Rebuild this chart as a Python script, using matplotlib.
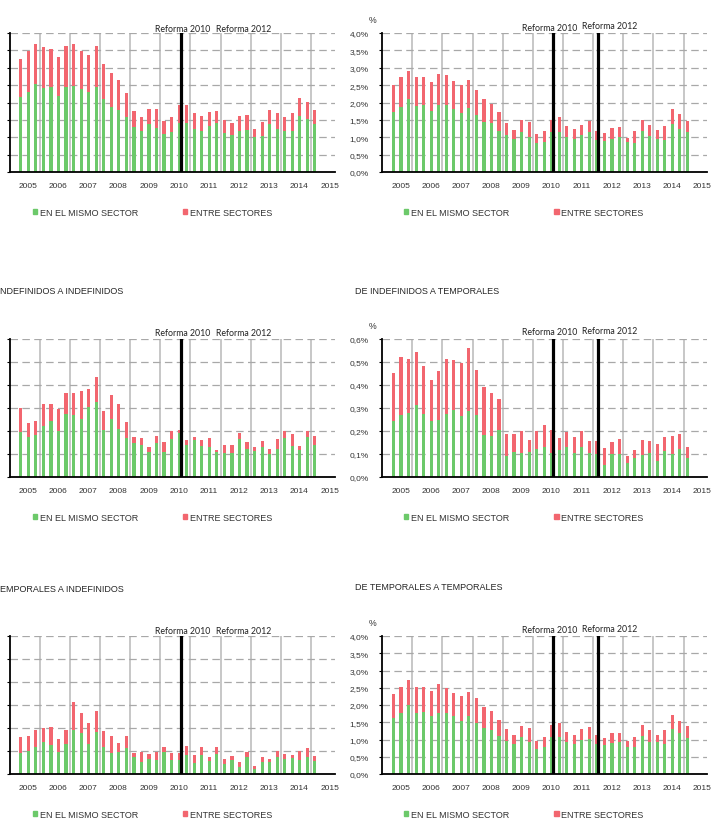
import matplotlib.pyplot as plt
import numpy as np
from matplotlib.patches import Patch
from matplotlib.ticker import FuncFormatter

# quarterly flows, 40 quarters, share in %
years = ["2005", "2006", "2007", "2008", "2009", "2010", "2011", "2012", "2013", "2014", "2015"]
legend_labels = ["EN EL MISMO SECTOR", "ENTRE SECTORES"]

# total (top row)
same_total = [2.17, 2.29, 2.53, 2.41, 2.46, 2.19, 2.46, 2.48, 2.39, 2.29, 2.46, 2.10, 1.86, 1.78, 1.59, 1.30,
              1.18, 1.37, 1.27, 1.08, 1.16, 1.42, 1.42, 1.25, 1.19, 1.32, 1.42, 1.13, 1.06, 1.19, 1.22, 1.01,
              1.03, 1.37, 1.25, 1.19, 1.19, 1.61, 1.52, 1.37]
betw_total = [1.08, 1.20, 1.15, 1.18, 1.09, 1.13, 1.18, 1.20, 1.10, 1.09, 1.18, 1.01, 0.99, 0.88, 0.69, 0.45,
              0.41, 0.45, 0.53, 0.39, 0.43, 0.51, 0.50, 0.45, 0.41, 0.41, 0.34, 0.36, 0.34, 0.42, 0.41, 0.22,
              0.40, 0.41, 0.45, 0.38, 0.51, 0.51, 0.50, 0.42]
same_total2 = [1.72, 1.88, 2.10, 1.90, 1.93, 1.76, 1.93, 1.93, 1.81, 1.69, 1.83, 1.63, 1.43, 1.40, 1.19, 1.06,
               0.94, 1.14, 1.01, 0.84, 0.87, 1.14, 1.16, 1.00, 0.96, 1.07, 1.16, 0.93, 0.90, 0.96, 1.01, 0.86,
               0.84, 1.18, 1.03, 0.96, 0.93, 1.37, 1.23, 1.14]
betw_total2 = [0.78, 0.84, 0.82, 0.82, 0.79, 0.82, 0.88, 0.86, 0.81, 0.80, 0.83, 0.73, 0.67, 0.57, 0.54, 0.34,
               0.28, 0.35, 0.42, 0.26, 0.30, 0.35, 0.41, 0.33, 0.27, 0.29, 0.31, 0.26, 0.23, 0.30, 0.29, 0.13,
               0.33, 0.31, 0.33, 0.24, 0.40, 0.43, 0.44, 0.33]

# de indefinidos a indefinidos
same_ii = [0.196, 0.174, 0.181, 0.220, 0.245, 0.201, 0.275, 0.271, 0.251, 0.306, 0.325, 0.206, 0.252, 0.209,
           0.170, 0.148, 0.141, 0.107, 0.148, 0.109, 0.165, 0.191, 0.141, 0.159, 0.133, 0.130, 0.109, 0.104,
           0.104, 0.165, 0.122, 0.112, 0.130, 0.101, 0.122, 0.170, 0.133, 0.116, 0.174, 0.139]
betw_ii = [0.104, 0.061, 0.062, 0.099, 0.074, 0.093, 0.089, 0.093, 0.123, 0.078, 0.110, 0.082, 0.106, 0.110,
           0.069, 0.027, 0.029, 0.023, 0.032, 0.042, 0.034, 0.012, 0.018, 0.016, 0.026, 0.040, 0.010, 0.037,
           0.037, 0.025, 0.029, 0.018, 0.025, 0.019, 0.043, 0.030, 0.053, 0.019, 0.026, 0.041]

# de indefinidos a temporales
same_it = [0.242, 0.268, 0.278, 0.312, 0.274, 0.242, 0.249, 0.274, 0.293, 0.264, 0.288, 0.268, 0.181, 0.180,
           0.206, 0.090, 0.110, 0.104, 0.107, 0.123, 0.130, 0.104, 0.116, 0.130, 0.104, 0.129, 0.104, 0.100,
           0.051, 0.101, 0.101, 0.061, 0.081, 0.094, 0.104, 0.068, 0.112, 0.101, 0.122, 0.081]
betw_it = [0.210, 0.254, 0.235, 0.230, 0.209, 0.181, 0.213, 0.239, 0.214, 0.232, 0.273, 0.199, 0.209, 0.184,
           0.133, 0.096, 0.076, 0.095, 0.052, 0.076, 0.095, 0.100, 0.054, 0.066, 0.070, 0.071, 0.051, 0.055,
           0.074, 0.050, 0.064, 0.030, 0.035, 0.065, 0.051, 0.077, 0.062, 0.079, 0.064, 0.049]

# de temporales a indefinidos
same_ti = [0.090, 0.101, 0.116, 0.140, 0.127, 0.094, 0.130, 0.191, 0.178, 0.130, 0.181, 0.119, 0.090, 0.097,
           0.113, 0.072, 0.051, 0.065, 0.062, 0.097, 0.061, 0.062, 0.084, 0.048, 0.084, 0.055, 0.087, 0.045,
           0.061, 0.032, 0.075, 0.022, 0.051, 0.051, 0.075, 0.065, 0.068, 0.062, 0.072, 0.058]
betw_ti = [0.072, 0.065, 0.075, 0.060, 0.077, 0.058, 0.062, 0.124, 0.087, 0.090, 0.094, 0.066, 0.076, 0.037,
           0.052, 0.018, 0.046, 0.020, 0.035, 0.019, 0.029, 0.028, 0.036, 0.034, 0.032, 0.017, 0.029, 0.020,
           0.016, 0.019, 0.022, 0.014, 0.024, 0.014, 0.023, 0.022, 0.014, 0.036, 0.039, 0.019]

# de temporales a temporales
same_tt = [1.61, 1.76, 2.00, 1.76, 1.80, 1.67, 1.78, 1.76, 1.67, 1.54, 1.67, 1.49, 1.32, 1.28, 1.09, 0.95,
           0.87, 1.06, 0.92, 0.72, 0.79, 1.06, 1.07, 0.92, 0.87, 0.99, 1.01, 0.87, 0.83, 0.89, 0.93, 0.79,
           0.77, 1.09, 0.94, 0.92, 0.86, 1.30, 1.18, 1.05]
betw_tt = [0.71, 0.77, 0.72, 0.77, 0.73, 0.75, 0.84, 0.73, 0.69, 0.72, 0.72, 0.70, 0.61, 0.54, 0.48, 0.35,
           0.26, 0.32, 0.41, 0.25, 0.27, 0.36, 0.40, 0.31, 0.26, 0.31, 0.35, 0.26, 0.20, 0.31, 0.27, 0.16,
           0.30, 0.34, 0.33, 0.21, 0.41, 0.41, 0.35, 0.35]

GREEN = "#6cc96a"
RED = "#f2666f"
TXT = "#333333"
W, H = 714, 828

fig = plt.figure(figsize=(W / 100, H / 100), dpi=100)


def add_ax(l, t, r, b):
    return fig.add_axes([l / W, 1 - b / H, (r - l) / W, (b - t) / H])


def panel(ax, same, betw, ymax, step, left_col, line2012, lab2010, lab2012):
    x = np.arange(len(same)) + 1.5
    ax.bar(x, same, width=0.42, color=GREEN, zorder=3)
    ax.bar(x, betw, bottom=same, width=0.42, color=RED, zorder=3)
    ax.set_xlim(0, 43.1)
    ax.set_ylim(0, ymax)
    ax.set_yticks(np.arange(0, ymax + step / 2, step))
    ax.yaxis.set_major_formatter(FuncFormatter(lambda v, p: ("%.1f%%" % v).replace(".", ",")))
    ax.set_xticks(np.arange(11) * 4 + 2.45, years)
    ax.set_xticks(np.arange(1, 11) * 4, minor=True)
    ax.grid(axis="y", which="major", linestyle=(0, (6, 3.5)), color="#a8a8a8", lw=0.9, zorder=1)
    ax.grid(axis="x", which="minor", color="#bdbdbd", lw=1.2, zorder=1)
    ax.grid(axis="x", which="major", visible=False)
    for s in ["top", "right"]:
        ax.spines[s].set_visible(False)
    for s in ["left", "bottom"]:
        ax.spines[s].set_linewidth(1.3)
        ax.spines[s].set_zorder(5)
    ax.tick_params(axis="x", which="both", length=0, pad=7, labelsize=6, labelcolor=TXT)
    ax.tick_params(axis="y", length=2.5, width=0.8, pad=7, labelsize=6, labelcolor=TXT,
                   labelleft=not left_col)
    for t in ax.get_xticklabels() + ax.get_yticklabels():
        t.set_family("Liberation Sans")

    ax.axvline(22.7, color="black", lw=2.3, zorder=4)
    if line2012:
        ax.axvline(28.7, color="black", lw=2.3, zorder=4)
    for txt, (xp, dy) in [("Reforma 2010", lab2010), ("Reforma 2012", lab2012)]:
        ax.annotate(txt, xy=(xp, 1), xycoords=ax.get_xaxis_transform(), xytext=(0, dy * 0.72),
                    textcoords="offset points", ha="center", va="center", fontsize=6.3,
                    family="Lato", color="#222222", annotation_clip=False)
    if not left_col:
        ax.annotate("%", xy=(0, 1), xycoords="axes fraction", xytext=(-7.2, 9.7),
                    textcoords="offset points", ha="center", va="center", fontsize=6.3,
                    family="Liberation Sans", color=TXT)

    handles = [Patch(color=GREEN, label=legend_labels[0]), Patch(color=RED, label=legend_labels[1])]
    ax.legend(handles=handles, loc="center left", bbox_to_anchor=(0.072 if left_col else 0.068, -0.29),
              ncol=2, frameon=False, handlelength=0.45, handleheight=0.45, handletextpad=0.3,
              columnspacing=5.0, borderaxespad=0, borderpad=0,
              prop={"family": "Liberation Sans", "size": 6.5})
    for t in ax.get_legend().get_texts():
        t.set_color(TXT)


rows = [(34, 173), (340, 478), (637, 775)]
left_x = (9.5, 334.5)
right_x = (382.2, 707)

ax = add_ax(left_x[0], rows[0][0], left_x[1], rows[0][1])
panel(ax, same_total, betw_total, 4.0, 0.5, True, False, (23.0, 5), (31.1, 5))
ax = add_ax(right_x[0], rows[0][0], right_x[1], rows[0][1])
panel(ax, same_total2, betw_total2, 4.0, 0.5, False, True, (22.2, 5.7), (30.2, 7.3))

ax = add_ax(left_x[0], rows[1][0], left_x[1], rows[1][1])
panel(ax, same_ii, betw_ii, 0.6, 0.1, True, False, (23.0, 6), (31.1, 6))
ax = add_ax(right_x[0], rows[1][0], right_x[1], rows[1][1])
panel(ax, same_it, betw_it, 0.6, 0.1, False, True, (22.2, 7.3), (30.2, 8.3))

ax = add_ax(left_x[0], rows[2][0], left_x[1], rows[2][1])
panel(ax, same_ti, betw_ti, 0.6, 0.1, True, False, (23.0, 5.3), (31.1, 5.3))
ax = add_ax(right_x[0], rows[2][0], right_x[1], rows[2][1])
panel(ax, same_tt, betw_tt, 4.0, 0.5, False, True, (22.2, 6.3), (30.2, 8))

title_kw = dict(fontsize=6.5, family="Liberation Sans", color="#262626", va="center", ha="left")
fig.text(0 / W, 1 - 292 / H, "NDEFINIDOS A INDEFINIDOS", **title_kw)
fig.text(355 / W, 1 - 292 / H, "DE INDEFINIDOS A TEMPORALES", **title_kw)
fig.text(0 / W, 1 - 589 / H, "EMPORALES A INDEFINIDOS", **title_kw)
fig.text(355 / W, 1 - 588 / H, "DE TEMPORALES A TEMPORALES", **title_kw)

fig.savefig("out.png", dpi=100)
